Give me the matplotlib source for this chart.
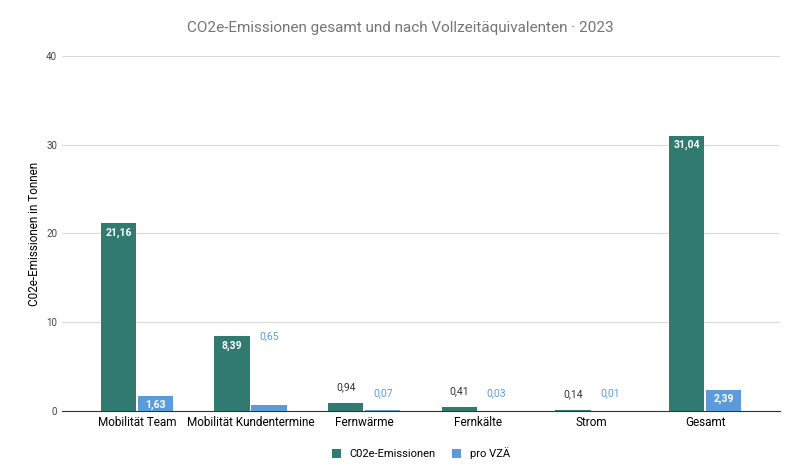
import matplotlib
matplotlib.use("Agg")
import matplotlib.pyplot as plt
import numpy as np

categories = ["Mobilität Team", "Mobilität Kundentermine", "Fernwärme", "Fernkälte", "Strom", "Gesamt"]
co2 = [21.16, 8.39, 0.94, 0.41, 0.14, 31.04]
vza = [1.63, 0.65, 0.07, 0.03, 0.01, 2.39]
labels_co2 = ["21,16", "8,39", "0,94", "0,41", "0,14", "31,04"]
labels_vza = ["1,63", "0,65", "0,07", "0,03", "0,01", "2,39"]

plt.rcParams["font.family"] = "Roboto"
c1, c2 = "#317a70", "#5b9bd9"
fig = plt.figure(figsize=(8, 4.75), dpi=100)
ax = fig.add_axes([0.0775, 0.135, 0.8975, 0.747])
x = np.arange(len(categories))
w = 0.31
ax.bar(x - 0.163, co2, w, color=c1, label="C02e-Emissionen", zorder=3)
ax.bar(x + 0.163, vza, w, color=c2, label="pro VZÄ", zorder=3)
for xi, v, l in zip(x, co2, labels_co2):
    if v > 3:
        ax.text(xi - 0.163, v - 0.5, l, ha="center", va="top", color="white", fontsize=7.5, fontweight="bold")
    else:
        ax.text(xi - 0.163, v + 1.2, l, ha="center", va="bottom", color="#333333", fontsize=7.5)
for xi, v, l in zip(x, vza, labels_vza):
    if v > 1.2:
        ax.text(xi + 0.163, v - 0.4, l, ha="center", va="top", color="white", fontsize=7.5, fontweight="bold")
    else:
        ax.text(xi + 0.163, v + 1.2 + (7 if l == "0,65" else 1), l, ha="center", va="bottom", color=c2, fontsize=7.5) if False else \
        ax.text(xi + 0.163, v + (7.2 if l == "0,65" else 1.4), l, ha="center", va="bottom", color=c2, fontsize=7.5)
ax.set_ylim(0, 40)
ax.set_xlim(-0.66, 5.66)
ax.set_yticks([0, 10, 20, 30, 40])
ax.tick_params(axis="y", labelsize=7, length=0, colors="#444444")
ax.tick_params(axis="x", labelsize=8.5, length=0)
ax.set_xticks(x)
ax.set_xticklabels(categories)
ax.yaxis.grid(True, color="#d9d9d9", lw=0.8, zorder=0)
for s in ["top", "right", "left"]:
    ax.spines[s].set_visible(False)
ax.spines["bottom"].set_color("#333333")
ax.set_ylabel("C02e-Emissionen in Tonnen", fontsize=8.5)
fig.suptitle("CO2e-Emissionen gesamt und nach Vollzeitäquivalenten · 2023", y=0.955, fontsize=11, color="#757575")
ax.legend(loc="upper center", bbox_to_anchor=(0.5, -0.075), ncol=2, frameon=False, fontsize=8, handlelength=0.8, handleheight=0.8, columnspacing=1.5)
fig.savefig("out.png")
